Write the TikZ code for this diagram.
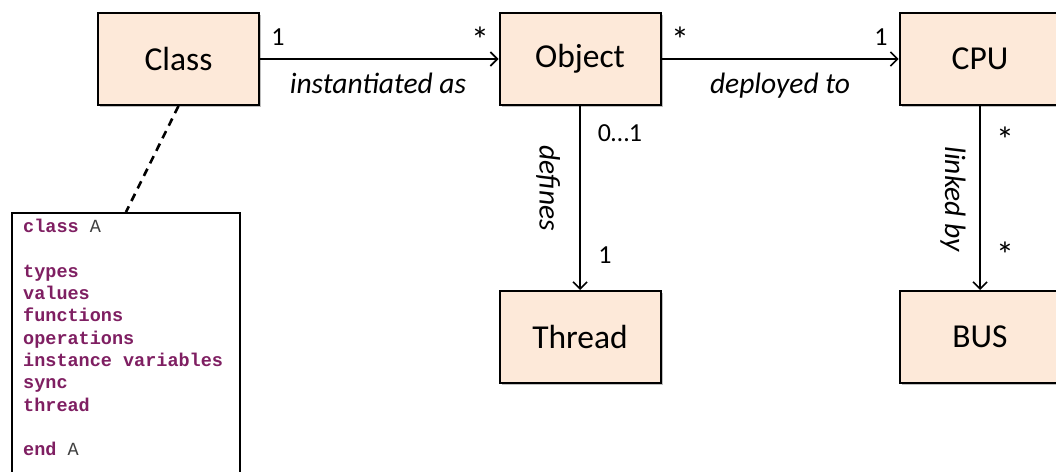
\documentclass[tikz,border=0pt]{standalone}
\usepackage{fontspec}
\setmainfont{Carlito}
\newfontfamily\codefont{Liberation Mono}
\usetikzlibrary{arrows.meta,shadows}

\definecolor{boxfill}{HTML}{FDE9D9}
\definecolor{kw}{HTML}{7F1F62}
\definecolor{idgray}{HTML}{404040}

\newcommand{\kwd}[1]{\textcolor{kw}{\textbf{#1}}}

\begin{document}
\begin{tikzpicture}[x = 1pt, y = -1pt, anno/.style = {line width = 1.6pt,-{Straight Barb[length = 7pt, width = 14pt]}}]
    \useasboundingbox (0,0) rectangle (1056,471);
    \tikzstyle{box}=[rectangle,draw,line width = 2pt,fill = boxfill,minimum width = 161pt,minimum height = 92pt,
        font = \fontsize{33.5}{40}\selectfont,drop shadow = {shadow xshift = 2pt,shadow yshift = -2pt,fill = black,opacity = .25}]
    \tikzstyle{mult}=[inner sep = 0pt,anchor = base,font = \fontsize{26}{31}\selectfont]
    \tikzstyle{many}=[inner sep = 0pt,anchor = center,font = \fontsize{36}{40}\selectfont]
    \tikzstyle{role}=[inner sep = 0pt,anchor = base,font = \fontsize{29.5}{35}\selectfont\itshape]

    % the five classes
    \node[box] (class) at (178.5,59) {Class};
    \node[box] (object) at (580,59) {Object};
    \node[box] (cpu) at (980,59) {CPU};
    \node[box] (thread) at (580,337) {Thread};
    \node[box] (bus) at (980,337) {BUS};

    % class definition sketch
    \node[draw,line width = 2pt,fill = white,minimum width = 228pt,minimum height = 300pt,anchor = north west] (code) at (11,212) {};
    \node[anchor = north west,inner sep = 0pt,align = left,text = idgray,font = \codefont\fontsize{18.5}{22.3}\selectfont] (body) at (23,219)
        {\kwd{class} A\\ \mbox{}\\ \kwd{types}\\ \kwd{values}\\ \kwd{functions}\\ \kwd{operations}\\
         \kwd{instance variables}\\ \kwd{sync}\\ \kwd{thread}\\ \mbox{}\\ \kwd{end} A};
    \draw [line width = 2.6pt,dash pattern = on 8pt off 6pt] (class.south) -- (code.north);

    % associations
    \draw [anno] (class) -- (object);
    \node[mult] (m1) at (278,45) {1};
    \node[many] (m2) at (480,40) {*};
    \node[role] (inst) at (378,93) {instantiated as};

    \draw [anno] (object) -- (cpu);
    \node[many] (m3) at (680,40) {*};
    \node[mult] (m4) at (881,45) {1};
    \node[role] (depl) at (780,93) {deployed to};

    \draw [anno] (object) -- (thread);
    \node[mult] (m5) at (620,141) {0\ldots1};
    \node[mult] (m6) at (605,263) {1};
    \node[role,rotate = -90,anchor = center] (defs) at (548,188) {defines};

    \draw [anno] (cpu) -- (bus);
    \node[many] (m7) at (1005,140) {*};
    \node[many] (m8) at (1005,255) {*};
    \node[role,rotate = -90,anchor = center] (link) at (953,199) {linked by};
\end{tikzpicture}
\end{document}
